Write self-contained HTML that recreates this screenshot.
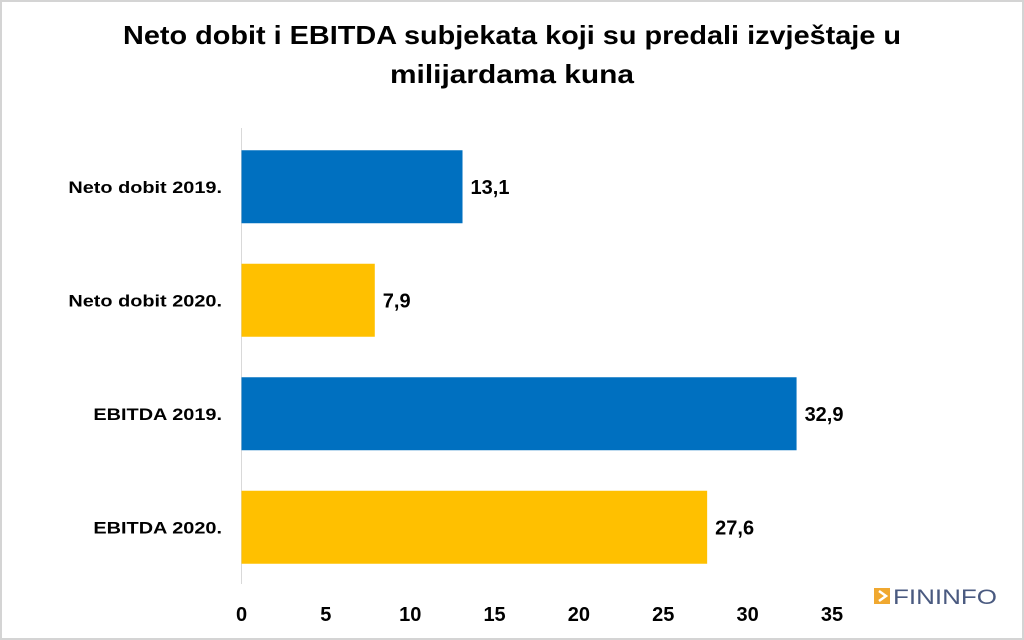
<!DOCTYPE html>
<html><head><meta charset="utf-8"><style>
html,body{margin:0;padding:0;background:#fff}
svg{display:block;font-family:"Liberation Sans",sans-serif}
</style></head><body>
<svg width="1024" height="640" viewBox="0 0 1024 640">
<rect x="1" y="1" width="1022" height="638" fill="#fff" stroke="#d4d4d4" stroke-width="2"/>
<text x="512" y="44" text-anchor="middle" font-size="26" font-weight="bold" fill="#000" textLength="778" lengthAdjust="spacingAndGlyphs">Neto dobit i EBITDA subjekata koji su predali izvještaje u</text>
<text x="512" y="83" text-anchor="middle" font-size="26" font-weight="bold" fill="#000" textLength="244" lengthAdjust="spacingAndGlyphs">milijardama kuna</text>
<line x1="241.5" y1="128" x2="241.5" y2="584" stroke="#d9d9d9" stroke-width="1"/>
<g id="bars"></g>
<g id="xticks"></g>
<g>
<rect x="874" y="588" width="16" height="16" fill="#f0a830"/>
<path d="M879 591 L886 596 L879 601" fill="none" stroke="#fff" stroke-width="2.5"/>
<text x="893" y="604" font-size="21" fill="#4a5a80" textLength="104" lengthAdjust="spacingAndGlyphs">FININFO</text>
</g>
</svg>
<script>
const categories = ["Neto dobit 2019.","Neto dobit 2020.","EBITDA 2019.","EBITDA 2020."];
const values = [13.1, 7.9, 32.9, 27.6];
const labels = ["13,1","7,9","32,9","27,6"];
const colors = ["#0070c0","#ffc000","#0070c0","#ffc000"];
const ticks = [0,5,10,15,20,25,30,35];
const NS="http://www.w3.org/2000/svg";
const x0=241.5, x1=832, vmax=35;
const xs=v=>x0+(v/vmax)*(x1-x0);
const yTop=130, yBot=584, band=(yBot-yTop)/categories.length, barH=73;
const g=document.getElementById('bars');
categories.forEach((c,i)=>{
  const yc=yTop+band*(i+0.5);
  const r=document.createElementNS(NS,'rect');
  r.setAttribute('x',x0);r.setAttribute('y',yc-barH/2);
  r.setAttribute('width',xs(values[i])-x0);r.setAttribute('height',barH);
  r.setAttribute('fill',colors[i]);
  
  
  g.appendChild(r);
  const t=document.createElementNS(NS,'text');
  t.setAttribute('x',222);t.setAttribute('y',yc+6);
  t.setAttribute('text-anchor','end');t.setAttribute('font-size','17');t.setAttribute('font-weight','bold');
  t.textContent=c;
  
  
  g.appendChild(t);
  const w=t.getComputedTextLength();
  t.setAttribute('textLength',w*1.17);
  t.setAttribute('lengthAdjust','spacingAndGlyphs');
  const v=document.createElementNS(NS,'text');
  v.setAttribute('x',xs(values[i])+8);v.setAttribute('y',yc+7);
  v.setAttribute('font-size','20');v.setAttribute('font-weight','bold');
  v.textContent=labels[i];
  
  
  g.appendChild(v);
});
const tg=document.getElementById('xticks');
ticks.forEach(tk=>{
  const t=document.createElementNS(NS,'text');
  t.setAttribute('x',xs(tk));t.setAttribute('y',621);
  t.setAttribute('text-anchor','middle');t.setAttribute('font-size','20');t.setAttribute('font-weight','bold');
  t.textContent=tk;
  
  
  tg.appendChild(t);
});
</script>
</body></html>
